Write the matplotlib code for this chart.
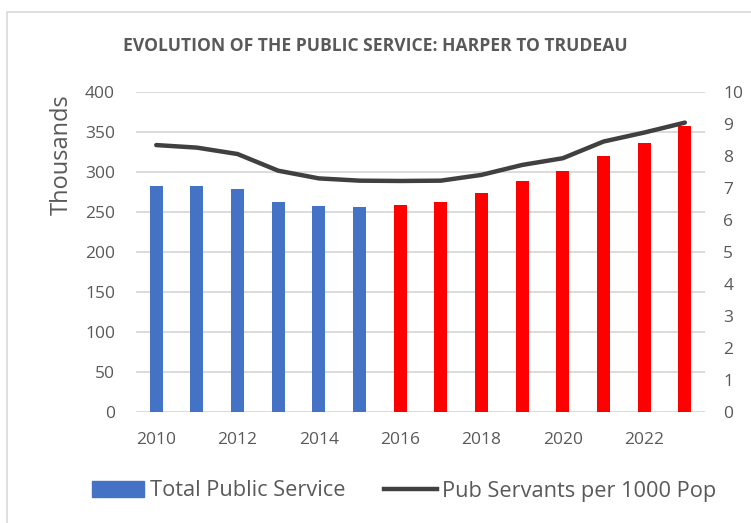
import matplotlib.pyplot as plt
from matplotlib.patches import Rectangle
from matplotlib.lines import Line2D
from matplotlib.patches import Patch

# data, read per year
years = list(range(2010, 2024))
total_public_service = [282.5, 281.7, 278, 262.5, 257, 256, 258.4, 262,
                        273.4, 288.4, 301, 319.6, 336.3, 357]
per_1000_pop = [8.33, 8.25, 8.05, 7.53, 7.29, 7.22, 7.21, 7.22,
                7.40, 7.71, 7.92, 8.44, 8.72, 9.03]
harper_years = list(range(2010, 2016))

blue = "#4472C4"
red = "#FF0000"
grey_txt = "#595959"
plt.rcParams["font.family"] = ["Open Sans", "DejaVu Sans"]

fig = plt.figure(figsize=(7.51, 5.23), dpi=100)
# chart area frame
fig.patches.append(Rectangle((7 / 751, -0.1), 1.2, 1 - 12 / 523 + 0.1,
                             transform=fig.transFigure, fill=False,
                             edgecolor="#d9d9d9", lw=1.2))

ax = fig.add_axes([0.181, 0.212, 0.758, 0.613])
ax2 = ax.twinx()

colors = [blue if y in harper_years else red for y in years]
ax.bar(years, total_public_service, width=0.32, color=colors, zorder=2)
ax2.plot(years, per_1000_pop, color="#404040", lw=3.2,
         solid_capstyle="round", solid_joinstyle="round")

ax.set_xlim(2009.5, 2023.5)
ax.set_ylim(0, 400)
ax2.set_ylim(0, 10)
ax.set_yticks(range(0, 401, 50))
ax2.set_yticks(range(0, 11))
ax.set_xticks(range(2010, 2023, 2))
ax.yaxis.grid(True, color="#d9d9d9", lw=1.3, zorder=0)
ax.set_axisbelow(True)

for a in (ax, ax2):
    for s in a.spines.values():
        s.set_visible(False)
    a.tick_params(length=0, labelsize=12.5, labelcolor=grey_txt)
ax.tick_params(axis="y", pad=15)
ax.tick_params(axis="x", pad=14)
ax2.tick_params(axis="y", pad=13)

fig.text(62 / 751, 1 - 155 / 523, "Thousands", rotation=90, ha="center",
         va="center", fontsize=17, color=grey_txt)
fig.text(375 / 751, 1 - 46 / 523, "EVOLUTION OF THE PUBLIC SERVICE: HARPER TO TRUDEAU",
         ha="center", va="center", fontsize=12.6, fontweight="bold", color=grey_txt)

handles = [Patch(color=blue), Line2D([], [], color="#404040", lw=3.2)]
fig.legend(handles, ["Total Public Service", "Pub Servants per 1000 Pop"],
           loc="center", bbox_to_anchor=(404 / 751, 1 - 491 / 523), ncol=2,
           frameon=False, fontsize=15.7, labelcolor=grey_txt, handlelength=2.4,
           handletextpad=0.25, columnspacing=1.8)

fig.savefig("out.png", dpi=100)
